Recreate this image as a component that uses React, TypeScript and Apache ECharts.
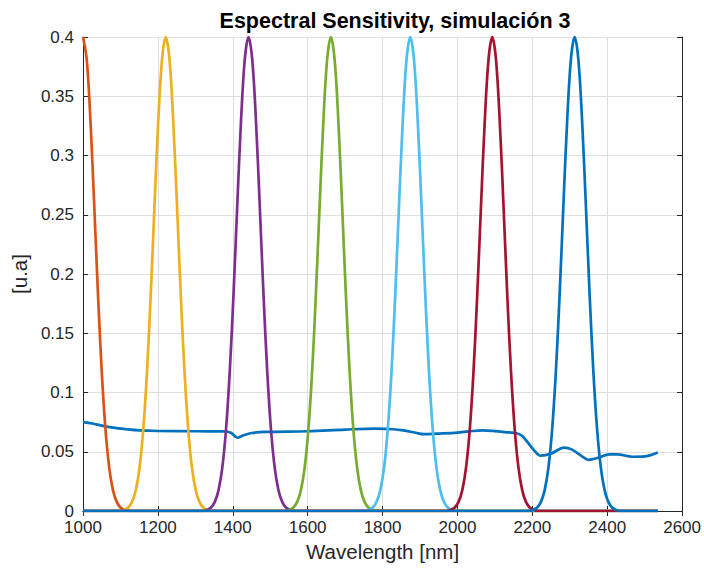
import React, { useEffect, useRef } from "react";
import * as echarts from "echarts";

const titleText = "Espectral Sensitivity, simulación 3";
const xAxisName = "Wavelength [nm]";
const yAxisName = "[u.a]";

const xTicks = [1000, 1200, 1400, 1600, 1800, 2000, 2200, 2400, 2600];
const yTicks = [0, 0.05, 0.1, 0.15, 0.2, 0.25, 0.3, 0.35, 0.4];

const colors = ["#0072BD", "#D95319", "#EDB120", "#7E2F8E", "#77AC30", "#4DBEEE", "#A2142F", "#0072BD"];

// broad reflectance-like curve
const baseCurve: [number, number][] = [
  [1000, 0.075], [1025, 0.0738], [1050, 0.072], [1080, 0.0703], [1115, 0.069], [1150, 0.068],
  [1200, 0.0675], [1300, 0.0673], [1375, 0.0672], [1395, 0.066], [1413, 0.0618], [1428, 0.0638],
  [1450, 0.0658], [1490, 0.0667], [1600, 0.0673], [1700, 0.0687], [1780, 0.0695], [1830, 0.069],
  [1855, 0.068], [1888, 0.066], [1910, 0.0648], [1945, 0.0653], [2000, 0.0662], [2030, 0.0672],
  [2067, 0.0681], [2095, 0.0676], [2120, 0.0667], [2155, 0.0658], [2170, 0.064], [2183, 0.0597],
  [2205, 0.0512], [2222, 0.0467], [2250, 0.0484], [2285, 0.0535], [2305, 0.052], [2333, 0.0461],
  [2350, 0.0432], [2378, 0.0451], [2405, 0.0478], [2427, 0.0478], [2467, 0.0458], [2502, 0.0461],
  [2535, 0.0493],
];

const band1: [number, number][] = [
  [1000, 0.4], [1010, 0.381], [1020, 0.329], [1030, 0.258], [1040, 0.183], [1050, 0.118], [1060, 0.069],
  [1070, 0.0366], [1080, 0.0176], [1090, 0.0077], [1100, 0.003], [1110, 0.0011], [1120, 0], [2535, 0],
];

const band2: [number, number][] = [
  [1000, 0], [1101, 0], [1111, 0.0011], [1121, 0.003], [1131, 0.0077], [1141, 0.0176], [1151, 0.0366],
  [1161, 0.069], [1171, 0.118], [1181, 0.183], [1191, 0.258], [1201, 0.329], [1211, 0.381], [1221, 0.4],
  [1231, 0.381], [1241, 0.329], [1251, 0.258], [1261, 0.183], [1271, 0.118], [1281, 0.069], [1291, 0.0366],
  [1301, 0.0176], [1311, 0.0077], [1321, 0.003], [1331, 0.0011], [1341, 0], [2535, 0],
];

const band3: [number, number][] = [
  [1000, 0], [1322, 0], [1332, 0.0011], [1342, 0.003], [1352, 0.0077], [1362, 0.0176], [1372, 0.0366],
  [1382, 0.069], [1392, 0.118], [1402, 0.183], [1412, 0.258], [1422, 0.329], [1432, 0.381], [1442, 0.4],
  [1452, 0.381], [1462, 0.329], [1472, 0.258], [1482, 0.183], [1492, 0.118], [1502, 0.069], [1512, 0.0366],
  [1522, 0.0176], [1532, 0.0077], [1542, 0.003], [1552, 0.0011], [1562, 0], [2535, 0],
];

const band4: [number, number][] = [
  [1000, 0], [1542, 0], [1552, 0.0011], [1562, 0.003], [1572, 0.0077], [1582, 0.0176], [1592, 0.0366],
  [1602, 0.069], [1612, 0.118], [1622, 0.183], [1632, 0.258], [1642, 0.329], [1652, 0.381], [1662, 0.4],
  [1672, 0.381], [1682, 0.329], [1692, 0.258], [1702, 0.183], [1712, 0.118], [1722, 0.069], [1732, 0.0366],
  [1742, 0.0176], [1752, 0.0077], [1762, 0.003], [1772, 0.0011], [1782, 0], [2535, 0],
];

const band5: [number, number][] = [
  [1000, 0], [1754, 0], [1764, 0.0011], [1774, 0.003], [1784, 0.0077], [1794, 0.0176], [1804, 0.0366],
  [1814, 0.069], [1824, 0.118], [1834, 0.183], [1844, 0.258], [1854, 0.329], [1864, 0.381], [1874, 0.4],
  [1884, 0.381], [1894, 0.329], [1904, 0.258], [1914, 0.183], [1924, 0.118], [1934, 0.069], [1944, 0.0366],
  [1954, 0.0176], [1964, 0.0077], [1974, 0.003], [1984, 0.0011], [1994, 0], [2535, 0],
];

const band6: [number, number][] = [
  [1000, 0], [1973, 0], [1983, 0.0011], [1993, 0.003], [2003, 0.0077], [2013, 0.0176], [2023, 0.0366],
  [2033, 0.069], [2043, 0.118], [2053, 0.183], [2063, 0.258], [2073, 0.329], [2083, 0.381], [2093, 0.4],
  [2103, 0.381], [2113, 0.329], [2123, 0.258], [2133, 0.183], [2143, 0.118], [2153, 0.069], [2163, 0.0366],
  [2173, 0.0176], [2183, 0.0077], [2193, 0.003], [2203, 0.0011], [2213, 0], [2535, 0],
];

const band7: [number, number][] = [
  [1000, 0], [2193, 0], [2203, 0.0011], [2213, 0.003], [2223, 0.0077], [2233, 0.0176], [2243, 0.0366],
  [2253, 0.069], [2263, 0.118], [2273, 0.183], [2283, 0.258], [2293, 0.329], [2303, 0.381], [2313, 0.4],
  [2323, 0.381], [2333, 0.329], [2343, 0.258], [2353, 0.183], [2363, 0.118], [2373, 0.069], [2383, 0.0366],
  [2393, 0.0176], [2403, 0.0077], [2413, 0.003], [2423, 0.0011], [2433, 0], [2535, 0],
];

const allSeries = [baseCurve, band1, band2, band3, band4, band5, band6, band7];

const FONT = "'Liberation Sans', Arial, Helvetica, sans-serif";
const AXIS_COLOR = "#262626";
const GRID_COLOR = "#dfdfdf";

export default function App() {
  const ref = useRef<HTMLDivElement>(null);

  useEffect(() => {
    if (!ref.current) return;
    const chart = echarts.init(ref.current, undefined, { renderer: "svg" });
    const xMin = xTicks[0];
    const xMax = xTicks[xTicks.length - 1];
    const yMin = yTicks[0];
    const yMax = yTicks[yTicks.length - 1];
    const xInterval = xTicks[1] - xTicks[0];
    const yInterval = 0.05;

    const baseAxisLine = { show: true, lineStyle: { color: AXIS_COLOR, width: 1 } };
    const tick = { show: true, inside: true, length: 5, lineStyle: { color: AXIS_COLOR, width: 1 } };

    chart.setOption({
      animation: false,
      backgroundColor: "#ffffff",
      title: {
        text: titleText,
        left: 390,
        top: 5,
        textAlign: "center",
        textStyle: { fontFamily: FONT, fontSize: 21.5, fontWeight: "bold", color: "#000000" },
      },
      grid: { left: 83, right: 21, top: 37, bottom: 58, containLabel: false },
      xAxis: [
        {
          type: "value",
          min: xMin,
          max: xMax,
          interval: xInterval,
          position: "bottom",
          name: xAxisName,
          nameLocation: "middle",
          nameGap: 29,
          nameTextStyle: { fontFamily: FONT, fontSize: 20.5, color: AXIS_COLOR },
          axisLine: baseAxisLine,
          axisTick: tick,
          axisLabel: {
            fontFamily: FONT,
            fontSize: 17,
            color: AXIS_COLOR,
            margin: 8,
            formatter: (v: number) => String(v),
          },
          splitLine: { show: true, lineStyle: { color: GRID_COLOR, width: 1 } },
        },
        {
          type: "value",
          min: xMin,
          max: xMax,
          interval: xInterval,
          position: "top",
          axisLine: baseAxisLine,
          axisTick: tick,
          axisLabel: { show: false },
          splitLine: { show: false },
        },
      ],
      yAxis: [
        {
          type: "value",
          min: yMin,
          max: yMax,
          interval: yInterval,
          position: "left",
          name: yAxisName,
          nameLocation: "middle",
          nameGap: 46,
          nameRotate: 90,
          nameTextStyle: { fontFamily: FONT, fontSize: 20.5, color: AXIS_COLOR },
          axisLine: baseAxisLine,
          axisTick: tick,
          axisLabel: { fontFamily: FONT, fontSize: 17, color: AXIS_COLOR, margin: 9 },
          splitLine: { show: true, lineStyle: { color: GRID_COLOR, width: 1 } },
        },
        {
          type: "value",
          min: yMin,
          max: yMax,
          interval: yInterval,
          position: "right",
          axisLine: baseAxisLine,
          axisTick: tick,
          axisLabel: { show: false },
          splitLine: { show: false },
        },
      ],
      series: allSeries.map((d, i) => ({
        type: "line",
        data: d,
        xAxisIndex: 0,
        yAxisIndex: 0,
        showSymbol: false,
        symbol: "none",
        smooth: 0.35,
        clip: true,
        lineStyle: { color: colors[i], width: 2.7 },
        itemStyle: { color: colors[i] },
        z: 2 + i,
      })),
    });
    return () => chart.dispose();
  }, []);

  return (
    <div
      ref={ref}
      style={{ position: "fixed", left: 0, top: 0, width: 704, height: 569, background: "#ffffff" }}
    />
  );
}
